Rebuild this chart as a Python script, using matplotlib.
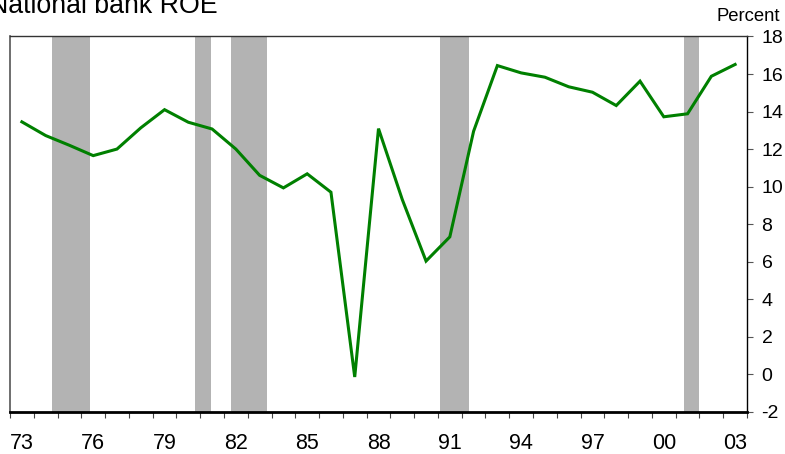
import matplotlib
matplotlib.use("Agg")
import matplotlib.pyplot as plt
from matplotlib import font_manager
from matplotlib.ticker import FixedLocator

# ---- data ----
years = list(range(1973, 2004))
roe = [13.45, 12.72, 12.2, 11.65, 12.0, 13.13, 14.1, 13.43, 13.07, 12.0,
       10.6, 9.93, 10.68, 9.7, -0.15, 13.09, 9.31, 6.03, 7.32, 12.95,
       16.45, 16.06, 15.83, 15.32, 15.03, 14.32, 15.62, 13.72, 13.88, 15.88,
       16.51]
rec_start = [1974.78, 1980.78, 1982.30, 1991.09, 2001.36]
rec_end = [1976.35, 1981.44, 1983.80, 1992.31, 2001.97]
xlabels = ["73", "76", "79", "82", "85", "88", "91", "94", "97", "00", "03"]
ylabel_vals = list(range(-2, 19, 2))

avail = {f.name for f in font_manager.fontManager.ttflist}
narrow = "Liberation Sans Narrow" if "Liberation Sans Narrow" in avail else "Liberation Sans"
regular = "Liberation Sans"

W, H = 785, 454
fig = plt.figure(figsize=(W / 100, H / 100), dpi=100)
ax = fig.add_axes([10 / W, (H - 411.7) / H, (747 - 10) / W, (411.7 - 36.5) / H])

x = [y - years[0] for y in years]
for s, e in zip(rec_start, rec_end):
    ax.axvspan(s - years[0] - 0.5, e - years[0] - 0.5, color="#b3b3b3", lw=0, zorder=1)
ax.plot(x, roe, color="#008000", lw=2.2, zorder=3, solid_joinstyle="miter")

ax.set_xlim(-0.5, len(years) - 0.5)
ax.set_ylim(-2, 18)

# x axis: boundary ticks (minor), labels centered on categories (major, no tick)
ax.xaxis.set_minor_locator(FixedLocator([i - 0.5 for i in range(len(years) + 1)]))
lab_pos = [i for i, y in enumerate(years) if (y - 1973) % 3 == 0]
ax.set_xticks(lab_pos)
ax.set_xticklabels(xlabels, family=narrow, fontsize=15.5)
ax.tick_params(axis="x", which="major", length=0, pad=15)
ax.tick_params(axis="x", which="minor", length=4.5, width=0.8, color="#444444", direction="out")

# y axis on right
ax.yaxis.tick_right()
ax.set_yticks(ylabel_vals)
ax.set_yticklabels([str(v) for v in ylabel_vals], family=regular, fontsize=14)
ax.tick_params(axis="y", which="major", length=4.5, width=0.8, color="#555555", pad=6, direction="out")

for side, sp in ax.spines.items():
    sp.set_zorder(4)
ax.spines["bottom"].set_linewidth(2.0)
ax.spines["bottom"].set_color("black")
ax.spines["right"].set_linewidth(1.0)
ax.spines["right"].set_color("black")
ax.spines["left"].set_linewidth(1.2)
ax.spines["left"].set_color("#555555")
ax.spines["top"].set_linewidth(1.0)
ax.spines["top"].set_color("#333333")

fig.text(780 / W, (H - 20.7) / H, "Percent", family=regular, fontsize=13.3,
         ha="right", va="baseline")
fig.text(-11 / W, (H - 13) / H, "National bank ROE", family=regular, fontsize=19.3,
         ha="left", va="baseline")

fig.savefig("out.png", dpi=100)
